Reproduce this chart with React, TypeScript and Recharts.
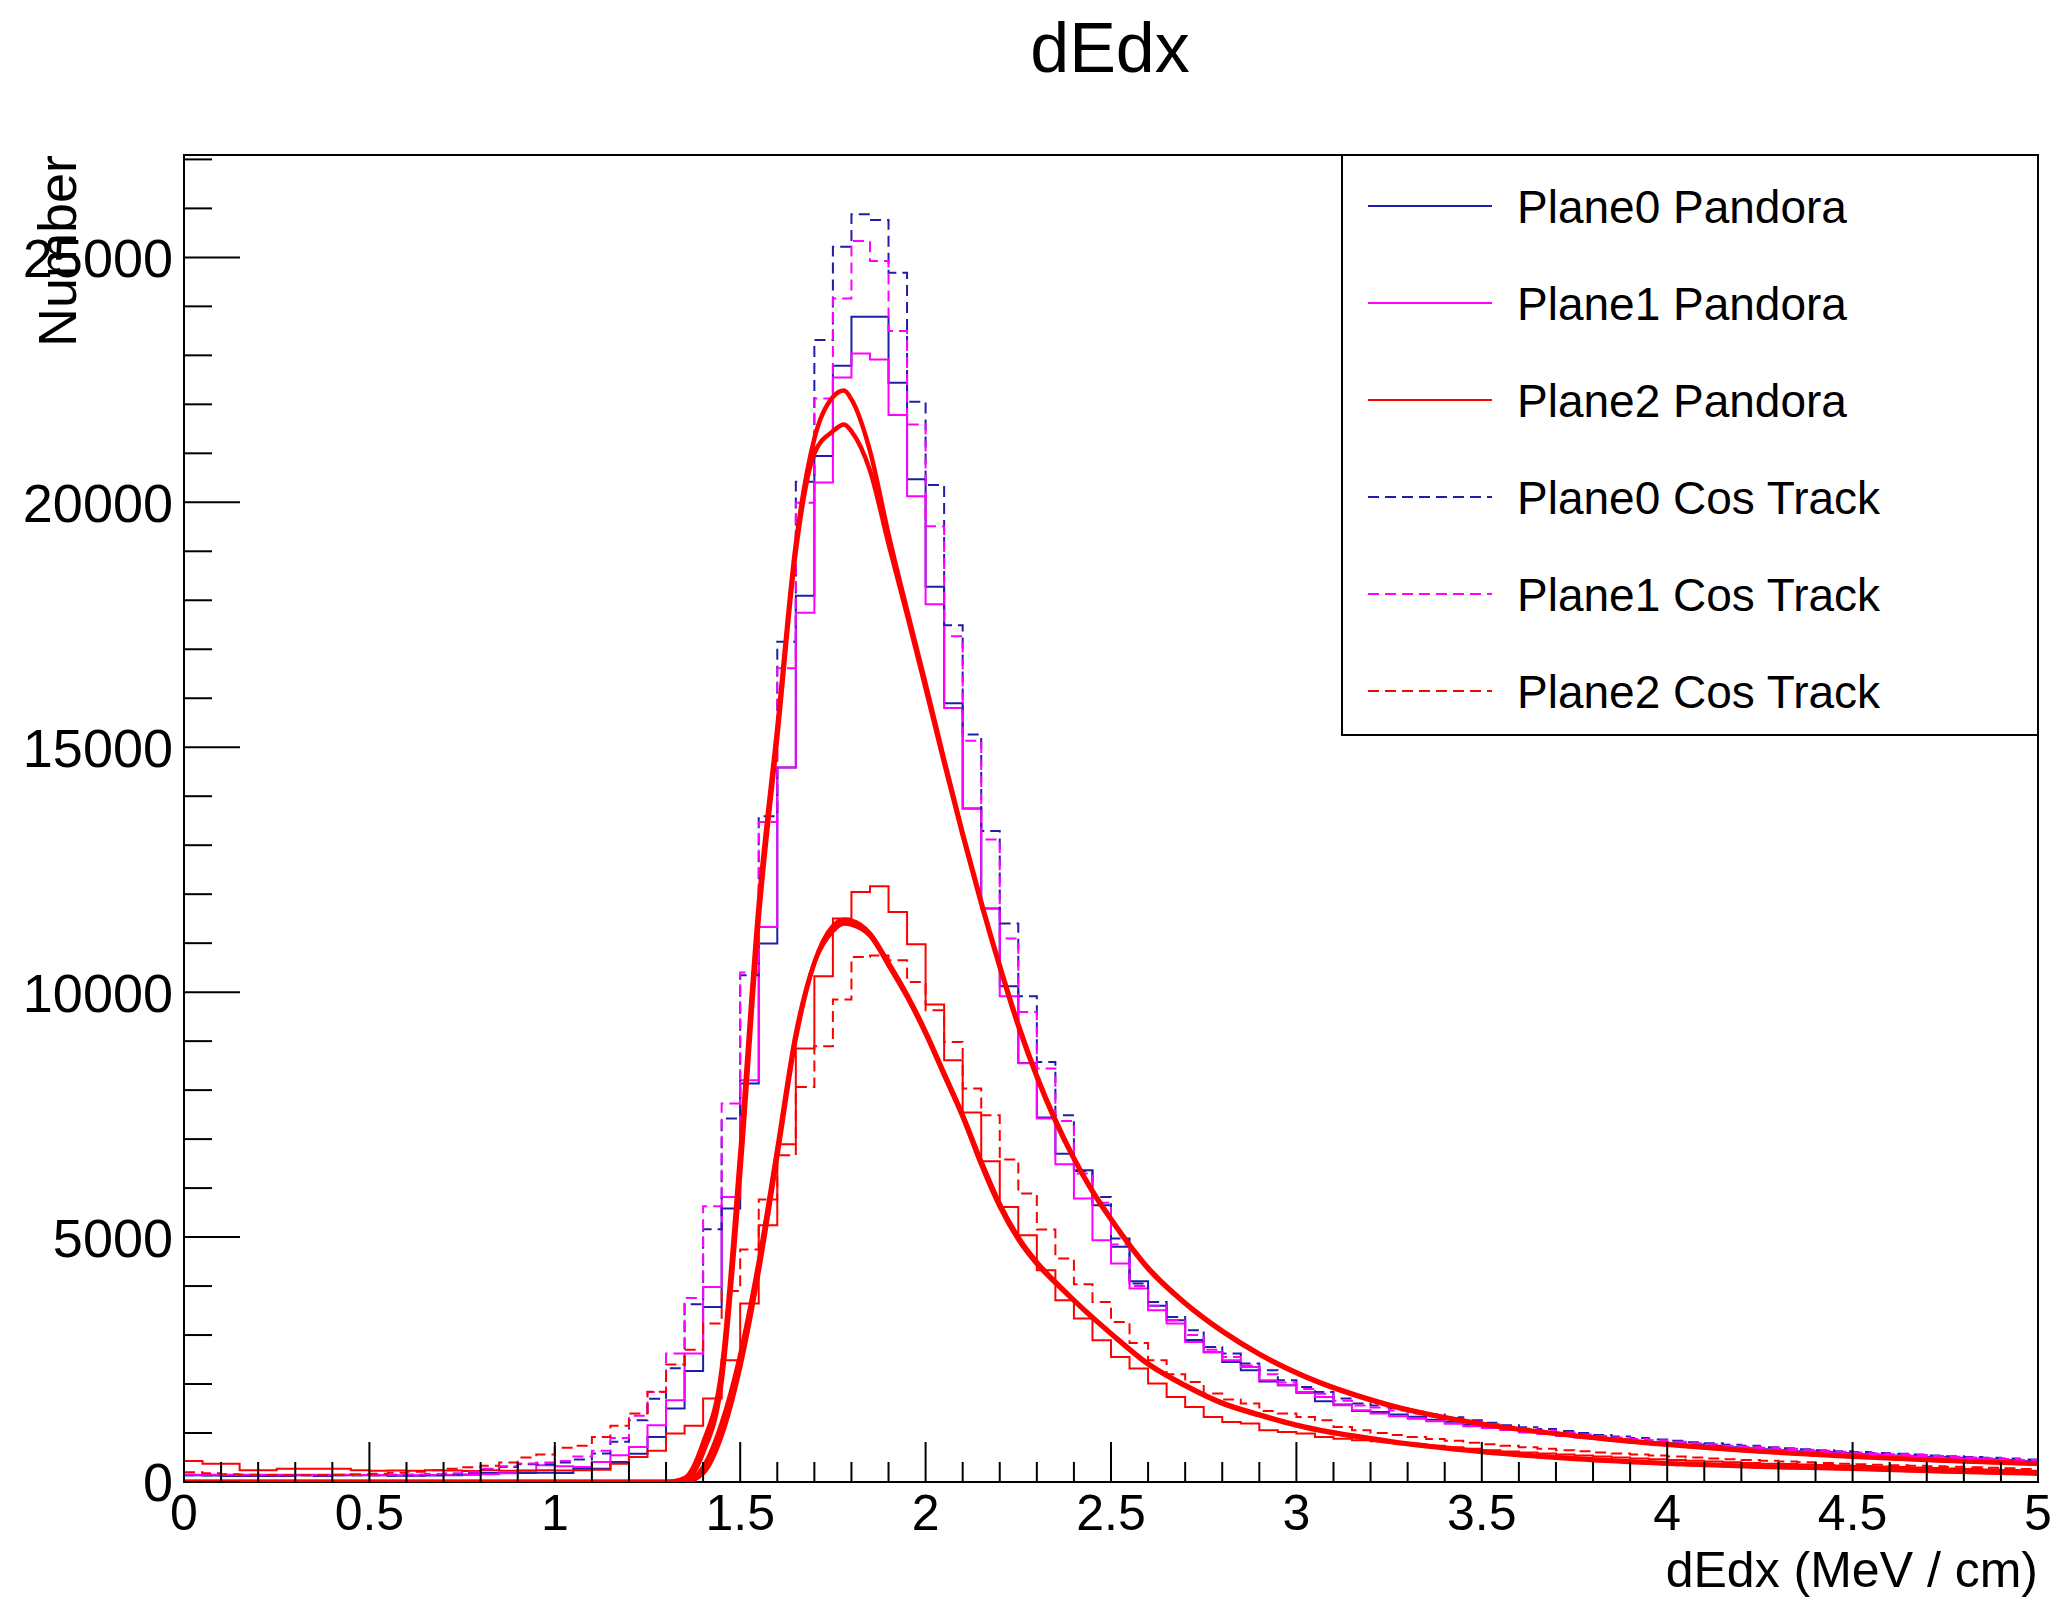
import React from "react";
import { ComposedChart, Line, XAxis, YAxis, ReferenceArea } from "recharts";

const W = 2059;
const H = 1598;
const FONT = "'Liberation Sans', Arial, Helvetica, sans-serif";

const BLUE = "#1e1eaa";
const MAGENTA = "#ff00ff";
const RED = "#ff0000";

// 100 bins of 0.05 MeV/cm from 0 to 5
const BIN_WIDTH = 0.05;
const X_MAX = 5;
const Y_MAX = 27090;

const xTickLabels = ["0", "0.5", "1", "1.5", "2", "2.5", "3", "3.5", "4", "4.5", "5"];
const yTickLabels = ["0", "5000", "10000", "15000", "20000", "25000"];

const plane0Pandora = [
  140, 135, 120, 120, 120, 125, 136, 125, 136, 136,
  136, 130, 130, 135, 140, 150, 184, 184, 184, 190,
  184, 273, 273, 409, 579, 919, 1499, 2266, 3573, 5582,
  8134, 10993, 14586, 18090, 20943, 22787, 23787, 23787, 22439, 20473,
  18274, 15900, 13749, 11708, 10121, 8555, 7440, 6700, 6364, 5650,
  4800, 4100, 3600, 3300, 2900, 2650, 2450, 2280, 2050, 1975,
  1820, 1650, 1580, 1450, 1430, 1380, 1330, 1270, 1230, 1170,
  1130, 1090, 1040, 1000, 970, 930, 900, 870, 840, 810,
  790, 760, 740, 710, 690, 670, 650, 630, 610, 590,
  570, 560, 540, 525, 510, 495, 480, 465, 450, 430,
];

const plane1Pandora = [
  150, 150, 150, 150, 150, 150, 150, 150, 150, 145,
  140, 140, 140, 145, 150, 155, 160, 180, 230, 340,
  320, 307, 409, 545, 715, 1157, 1668, 2621, 3981, 5819,
  8200, 11332, 14586, 17743, 20406, 22550, 23040, 22917, 21780, 20126,
  17921, 15800, 13749, 11708, 9916, 8548, 7420, 6487, 5786, 4935,
  4459, 3949, 3506, 3234, 2859, 2654, 2485, 2348, 2077, 1974,
  1838, 1736, 1566, 1464, 1400, 1340, 1290, 1240, 1190, 1140,
  1100, 1060, 1010, 980, 940, 910, 880, 850, 820, 790,
  770, 740, 720, 700, 680, 660, 640, 620, 600, 580,
  565, 550, 530, 515, 500, 485, 470, 455, 440, 420,
];

const plane2Pandora = [
  430, 375, 375, 240, 240, 273, 273, 268, 270, 239,
  232, 236, 228, 240, 233, 226, 238, 231, 236, 240,
  235, 242, 250, 375, 511, 640, 988, 1150, 1703, 2485,
  3642, 5241, 6895, 8849, 10325, 11503, 12047, 12163, 11638, 10979,
  9748, 8610, 7542, 6550, 5615, 5037, 4322, 3710, 3336, 2893,
  2552, 2315, 2009, 1736, 1531, 1327, 1225, 1192, 1055, 1021,
  988, 919, 885, 851, 830, 800, 770, 740, 710, 680,
  650, 625, 600, 580, 560, 540, 520, 500, 480, 465,
  450, 435, 420, 405, 390, 375, 365, 355, 345, 335,
  325, 315, 305, 295, 285, 275, 265, 255, 245, 230,
];

const plane0Cos = [
  136, 136, 130, 128, 125, 130, 136, 125, 136, 136,
  136, 135, 140, 145, 160, 190, 260, 306, 361, 361,
  400, 460, 580, 820, 1260, 1700, 2320, 3628, 5160, 7420,
  10346, 13592, 17151, 20418, 23311, 25216, 25878, 25761, 24685, 22051,
  20351, 17492, 15260, 13292, 11401, 9917, 8576, 7487, 6350, 5819,
  4969, 4051, 3675, 3369, 3097, 2756, 2621, 2417, 2281, 2077,
  1940, 1838, 1703, 1601, 1560, 1500, 1440, 1380, 1320, 1260,
  1210, 1160, 1120, 1080, 1040, 1000, 960, 930, 900, 870,
  840, 810, 790, 760, 740, 710, 690, 670, 650, 630,
  610, 590, 575, 560, 540, 525, 510, 495, 480, 460,
];

const plane1Cos = [
  150, 148, 145, 140, 140, 140, 145, 140, 145, 145,
  150, 150, 155, 165, 180, 210, 270, 320, 380, 400,
  430, 520, 640, 900, 1350, 1838, 2621, 3757, 5629, 7726,
  10400, 13476, 16614, 19989, 22121, 24163, 25332, 24924, 23495, 21590,
  19513, 17268, 15130, 13116, 11095, 9596, 8441, 7371, 6300, 5700,
  4850, 4000, 3600, 3300, 3000, 2700, 2550, 2380, 2200, 2030,
  1900, 1800, 1660, 1560, 1520, 1460, 1400, 1340, 1290, 1230,
  1180, 1130, 1090, 1050, 1010, 970, 940, 910, 880, 850,
  820, 790, 770, 740, 720, 700, 680, 660, 640, 620,
  600, 580, 565, 550, 530, 515, 500, 485, 470, 450,
];

const plane2Cos = [
  200, 180, 160, 150, 145, 140, 140, 145, 150, 160,
  170, 190, 210, 240, 270, 300, 330, 400, 500, 560,
  700, 740, 920, 1150, 1400, 1840, 2400, 2700, 3234, 3900,
  4745, 5766, 6670, 8065, 8896, 9850, 10719, 10750, 10650, 10209,
  9631, 8984, 8032, 7487, 6583, 5888, 5153, 4561, 4037, 3675,
  3267, 2838, 2485, 2199, 2042, 1805, 1682, 1601, 1450, 1396,
  1327, 1260, 1123, 1055, 1000, 960, 920, 880, 840, 800,
  770, 740, 710, 680, 650, 630, 600, 580, 560, 540,
  520, 500, 480, 465, 450, 435, 420, 405, 390, 375,
  360, 350, 340, 330, 320, 310, 300, 290, 280, 265,
];

// fitted curves, sampled at these x positions
const fitX = [
  0, 1.25, 1.3, 1.35, 1.4, 1.45, 1.5, 1.55, 1.6, 1.65, 1.7, 1.75, 1.78, 1.8,
  1.85, 1.9, 1.95, 2.0, 2.05, 2.1, 2.15, 2.2, 2.25, 2.3, 2.35, 2.4, 2.45, 2.5,
  2.6, 2.7, 2.8, 2.9, 3.0, 3.25, 3.5, 3.75, 4.0, 4.25, 4.5, 4.75, 5.0,
];

const fitHighA = [
  0, 0, 0, 80, 800, 2300, 6700, 11800, 15400, 19150, 21300, 22150, 22280, 22100,
  21050, 19350, 17800, 16300, 14750, 13250, 11850, 10550, 9350, 8300, 7400, 6620, 5950, 5380,
  4380, 3660, 3090, 2620, 2240, 1580, 1190, 950, 770, 630, 524, 440, 374,
];
const fitHighB = [
  0, 0, 0, 30, 600, 2050, 6300, 11500, 15200, 19000, 21000, 21450, 21590, 21450,
  20650, 19150, 17700, 16200, 14680, 13200, 11800, 10500, 9300, 8260, 7360, 6590, 5920, 5350,
  4350, 3640, 3070, 2600, 2220, 1560, 1180, 940, 760, 620, 515, 435, 370,
];
const fitLowA = [
  0, 0, 0, 0, 300, 1200, 2600, 4500, 6800, 9150, 10600, 11250, 11400, 11380,
  11150, 10550, 9900, 9150, 8300, 7450, 6480, 5620, 4950, 4450, 4060, 3700, 3350, 3020,
  2400, 1960, 1600, 1360, 1150, 820, 613, 470, 374, 310, 272, 215, 170,
];
const fitLowB = [
  0, 0, 0, 0, 180, 950, 2350, 4300, 6650, 9050, 10600, 11350, 11480, 11460,
  11200, 10600, 9950, 9200, 8350, 7500, 6550, 5680, 5000, 4490, 4090, 3720, 3370, 3040,
  2420, 1980, 1620, 1380, 1170, 840, 630, 485, 385, 320, 280, 225, 180,
];

const histSeries = [
  { name: "Plane0 Pandora", values: plane0Pandora, color: BLUE, dashed: false },
  { name: "Plane1 Pandora", values: plane1Pandora, color: MAGENTA, dashed: false },
  { name: "Plane2 Pandora", values: plane2Pandora, color: RED, dashed: false },
  { name: "Plane0 Cos Track", values: plane0Cos, color: BLUE, dashed: true },
  { name: "Plane1 Cos Track", values: plane1Cos, color: MAGENTA, dashed: true },
  { name: "Plane2 Cos Track", values: plane2Cos, color: RED, dashed: true },
];

const fits = [fitHighA, fitHighB, fitLowA, fitLowB];

const DASH = "11 6";

const toSteps = (values: number[]) => {
  const pts = values.map((v, i) => ({ x: Math.round(i * BIN_WIDTH * 100) / 100, y: v }));
  pts.push({ x: X_MAX, y: values[values.length - 1] });
  return pts;
};

const toCurve = (values: number[]) => fitX.map((x, i) => ({ x, y: values[i] }));

const xTicks = Array.from({ length: 51 }, (_, i) => i / 10);
const yTicks = Array.from({ length: 28 }, (_, i) => i * 1000);

const XTick = (props: any) => {
  const { x, y, payload } = props;
  const v = payload.value as number;
  const idx = Math.round(v * 10);
  const major = idx % 5 === 0;
  return (
    <g>
      <line x1={x} x2={x} y1={y} y2={y - (major ? 40 : 20)} stroke="#000" strokeWidth={2} />
      {major && (
        <text x={x} y={y + 48} textAnchor="middle" fontSize={50} fontFamily={FONT} fill="#000">
          {xTickLabels[idx / 5]}
        </text>
      )}
    </g>
  );
};

const YTick = (props: any) => {
  const { x, y, payload } = props;
  const v = payload.value as number;
  const major = v % 5000 === 0;
  return (
    <g>
      <line x1={x} x2={x + (major ? 56 : 28)} y1={y} y2={y} stroke="#000" strokeWidth={2} />
      {major && (
        <text x={x - 11} y={y} dy="0.36em" textAnchor="end" fontSize={54} fontFamily={FONT} fill="#000">
          {yTickLabels[v / 5000]}
        </text>
      )}
    </g>
  );
};

const LEGEND_X = 1342;
const LEGEND_Y = 155;
const LEGEND_W = 696;
const LEGEND_H = 580;

const App = () => {
  return (
    <div style={{ position: "absolute", left: 0, top: 0, width: W, height: H, background: "#fff", fontFamily: FONT }}>
      <ComposedChart width={W} height={H} margin={{ top: 155, right: 21, bottom: 0, left: 0 }}>
        <XAxis
          type="number"
          dataKey="x"
          domain={[0, X_MAX]}
          ticks={xTicks}
          interval={0}
          tick={(p: any) => <XTick {...p} />}
          tickSize={0}
          tickMargin={0}
          tickLine={false}
          axisLine={false}
          height={116}
          allowDataOverflow
        />
        <YAxis
          type="number"
          domain={[0, Y_MAX]}
          ticks={yTicks}
          interval={0}
          tick={(p: any) => <YTick {...p} />}
          tickSize={0}
          tickMargin={0}
          tickLine={false}
          axisLine={false}
          width={184}
          allowDataOverflow
        />
        {histSeries.map((s) => (
          <Line
            key={s.name}
            data={toSteps(s.values)}
            dataKey="y"
            type="stepAfter"
            stroke={s.color}
            strokeWidth={2}
            strokeDasharray={s.dashed ? DASH : undefined}
            dot={false}
            activeDot={false}
            isAnimationActive={false}
          />
        ))}
        {fits.map((f, i) => (
          <Line
            key={"fit" + i}
            data={toCurve(f)}
            dataKey="y"
            type="monotone"
            stroke={RED}
            strokeWidth={4.5}
            dot={false}
            activeDot={false}
            isAnimationActive={false}
          />
        ))}
        <ReferenceArea
          x1={0}
          x2={X_MAX}
          y1={0}
          y2={Y_MAX}
          fill="none"
          fillOpacity={0}
          stroke="#000"
          strokeWidth={2}
          ifOverflow="visible"
        />
      </ComposedChart>
      <svg
        width={W}
        height={H}
        style={{ position: "absolute", left: 0, top: 0, pointerEvents: "none" }}
      >
        <text x={1110} y={72} textAnchor="middle" fontSize={70} fontFamily={FONT} fill="#000">
          dEdx
        </text>
        <text x={2038} y={1587} textAnchor="end" fontSize={50} fontFamily={FONT} fill="#000">
          dEdx (MeV / cm)
        </text>
        <text
          x={76}
          y={155}
          transform="rotate(-90 76 155)"
          textAnchor="end"
          fontSize={54}
          fontFamily={FONT}
          fill="#000"
        >
          Number
        </text>
        <rect x={LEGEND_X} y={LEGEND_Y} width={LEGEND_W} height={LEGEND_H} fill="#fff" stroke="#000" strokeWidth={2} />
        {histSeries.map((s, i) => {
          const cy = 206 + i * 97;
          return (
            <g key={s.name}>
              <line
                x1={1368}
                x2={1492}
                y1={cy}
                y2={cy}
                stroke={s.color}
                strokeWidth={2}
                strokeDasharray={s.dashed ? DASH : undefined}
              />
              <text x={1517} y={cy} dy="0.36em" fontSize={46} fontFamily={FONT} fill="#000">
                {s.name}
              </text>
            </g>
          );
        })}
      </svg>
    </div>
  );
};

export default App;
